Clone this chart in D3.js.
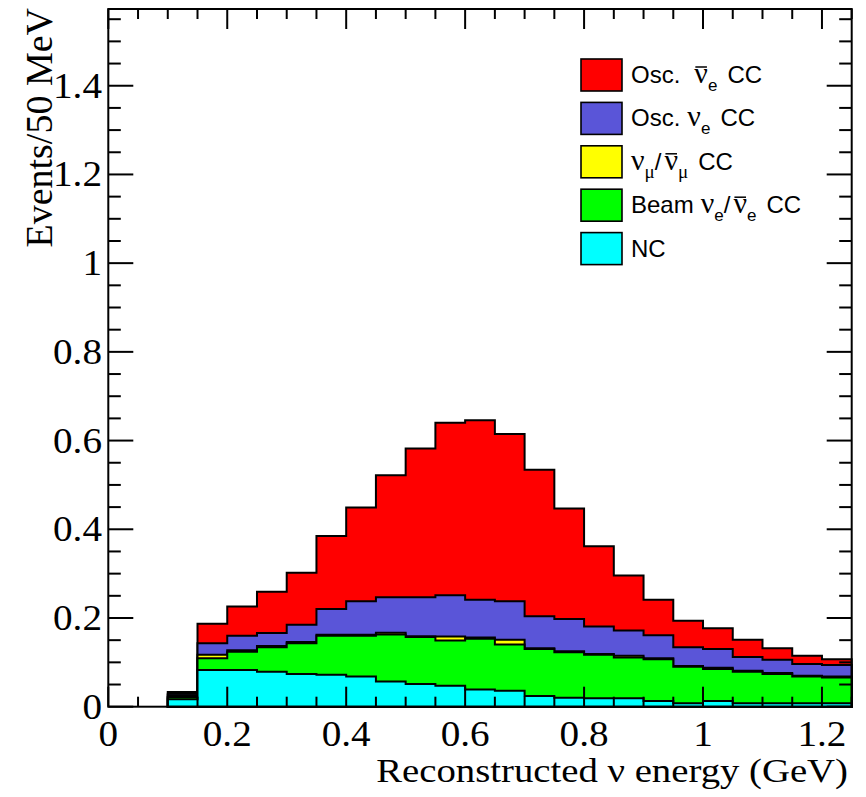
<!DOCTYPE html>
<html>
<head>
<meta charset="utf-8">
<script src="https://cdn.jsdelivr.net/npm/d3@7"></script>
<style>
  html, body { margin: 0; padding: 0; background: #fff; }
  svg { display: block; }
</style>
</head>
<body>
<svg id="chart" width="866" height="797"></svg>
<script>
// --- data ---
const binLow = [0.10, 0.15, 0.20, 0.25, 0.30, 0.35, 0.40, 0.45, 0.50, 0.55, 0.60, 0.65,
                0.70, 0.75, 0.80, 0.85, 0.90, 0.95, 1.00, 1.05, 1.10, 1.15, 1.20];
const binWidth = 0.05;

const nc        = [0.017, 0.083, 0.083, 0.079, 0.074, 0.072, 0.068, 0.057, 0.051, 0.047, 0.039, 0.036,
                   0.024, 0.020, 0.019, 0.019, 0.013, 0.008, 0.013, 0.008, 0.008, 0.008, 0.008];
const beamNue   = [0.005, 0.026, 0.041, 0.055, 0.069, 0.088, 0.092, 0.106, 0.106, 0.102, 0.114, 0.104,
                   0.106, 0.103, 0.098, 0.092, 0.094, 0.082, 0.072, 0.071, 0.066, 0.060, 0.058];
const numuCC    = [0.004, 0.008, 0.003, 0.003, 0.003, 0.002, 0.002, 0.004, 0.002, 0.009, 0.003, 0.011,
                   0.002, 0.002, 0.002, 0.004, 0.002, 0.002, 0.003, 0.002, 0.002, 0.002, 0.002];
const oscNue    = [0.003, 0.026, 0.033, 0.029, 0.039, 0.058, 0.076, 0.080, 0.088, 0.093, 0.085, 0.087,
                   0.072, 0.073, 0.062, 0.057, 0.052, 0.042, 0.042, 0.031, 0.030, 0.026, 0.026];
const oscNuebar = [0.004, 0.044, 0.066, 0.093, 0.117, 0.165, 0.211, 0.275, 0.335, 0.389, 0.405, 0.377,
                   0.330, 0.249, 0.181, 0.124, 0.080, 0.060, 0.047, 0.039, 0.026, 0.019, 0.013];

const xMajor = [0, 0.2, 0.4, 0.6, 0.8, 1, 1.2];
const yMajor = [0, 0.2, 0.4, 0.6, 0.8, 1, 1.2, 1.4];

const layers = [
  { key: 'nc',        values: nc,        color: '#00ffff' },
  { key: 'beamNue',   values: beamNue,   color: '#00ff00' },
  { key: 'numuCC',    values: numuCC,    color: '#ffff00' },
  { key: 'oscNue',    values: oscNue,    color: '#5a55d8' },
  { key: 'oscNuebar', values: oscNuebar, color: '#ff0000' }
];

// legend: text pieces, n = normal, g = greek, gb = greek with bar, s/sg = subscript
const legendItems = [
  { key: 'oscNuebar', parts: [['Osc.', 'n'], ['ν', 'gb'], ['e', 's'], ['CC', 'n']] },
  { key: 'oscNue',    parts: [['Osc.', 'n'], ['ν', 'g'], ['e', 's'], ['CC', 'n']] },
  { key: 'numuCC',    parts: [['ν', 'g'], ['μ', 'sg'], ['/', 'n'], ['ν', 'gb'], ['μ', 'sg'], ['CC', 'n']] },
  { key: 'beamNue',   parts: [['Beam', 'n'], ['ν', 'g'], ['e', 's'], ['/', 'n'], ['ν', 'gb'], ['e', 's'], ['CC', 'n']] },
  { key: 'nc',        parts: [['NC', 'n']] }
];

// --- layout ---
const frame = { left: 108.3, right: 851.7, top: 9, bottom: 706.7 };
const serif = "'Liberation Serif', 'Times New Roman', serif";
const sans = "'Liberation Sans', Arial, Helvetica, sans-serif";
const stretch = 1.12;

const svg = d3.select('#chart');

const x = d3.scaleLinear().domain([0, 1.25]).range([frame.left, frame.right]);
const y = d3.scaleLinear().domain([0, 1.573]).range([frame.bottom, frame.top]);

// stacked histogram, drawn top layer first
const rows = binLow.map((b, i) => {
  const r = { x: b };
  layers.forEach(l => { r[l.key] = l.values[i]; });
  return r;
});
const stacked = d3.stack().keys(layers.map(l => l.key))(rows);

const area = d3.area()
  .curve(d3.curveStepAfter)
  .x(d => x(d.x))
  .y0(y(0))
  .y1(d => y(d.top));

const histG = svg.append('g');
stacked.slice().reverse().forEach(series => {
  const layer = layers.find(l => l.key === series.key);
  const pts = series.map((s, i) => ({ x: binLow[i], top: s[1] }));
  const last = pts[pts.length - 1];
  pts.push({ x: last.x + binWidth, top: last.top });
  histG.append('path')
    .datum(pts)
    .attr('d', area)
    .attr('fill', layer.color)
    .attr('stroke', '#000')
    .attr('stroke-width', 2)
    .attr('stroke-linejoin', 'miter');
});

// frame and ticks (ROOT style, inward on all four sides)
const axG = svg.append('g').attr('stroke', '#000').attr('stroke-width', 2);
axG.append('rect')
  .attr('x', frame.left).attr('y', frame.top)
  .attr('width', frame.right - frame.left).attr('height', frame.bottom - frame.top)
  .attr('fill', 'none');

const xMinor = d3.range(0, 1.2501, 0.05);
xMinor.forEach(v => {
  const isMajor = xMajor.some(m => Math.abs(m - v) < 1e-6);
  const len = isMajor ? 20 : 10;
  axG.append('line').attr('x1', x(v)).attr('x2', x(v)).attr('y1', frame.bottom).attr('y2', frame.bottom - len);
  axG.append('line').attr('x1', x(v)).attr('x2', x(v)).attr('y1', frame.top).attr('y2', frame.top + len);
});

const yMinor = d3.range(0, 1.5501, 0.05);
yMinor.forEach(v => {
  const isMajor = yMajor.some(m => Math.abs(m - v) < 1e-6);
  const len = isMajor ? 25 : 12.5;
  axG.append('line').attr('x1', frame.left).attr('x2', frame.left + len).attr('y1', y(v)).attr('y2', y(v));
  axG.append('line').attr('x1', frame.right).attr('x2', frame.right - len).attr('y1', y(v)).attr('y2', y(v));
});

const fmt = v => String(+v.toFixed(1));

// tick labels
const labG = svg.append('g').attr('font-family', serif).attr('font-size', 35).attr('fill', '#000');
xMajor.forEach(v => {
  labG.append('text')
    .attr('transform', `translate(${x(v)},746) scale(${stretch},1)`)
    .attr('text-anchor', 'middle')
    .text(fmt(v));
});
yMajor.forEach(v => {
  labG.append('text')
    .attr('transform', `translate(102,${y(v) + 12}) scale(${stretch},1)`)
    .attr('text-anchor', 'end')
    .text(fmt(v));
});

// axis titles
svg.append('text')
  .attr('transform', `translate(848,782) scale(1.14,1)`)
  .attr('text-anchor', 'end')
  .attr('font-family', serif).attr('font-size', 34)
  .text('Reconstructed ν energy (GeV)');

svg.append('text')
  .attr('transform', 'translate(52,8) rotate(-90)')
  .attr('text-anchor', 'end')
  .attr('font-family', serif).attr('font-size', 38)
  .text('Events/50 MeV');

// legend
const legG = svg.append('g');
const kinds = {
  n:  { family: sans,  size: 24, dy: 0 },
  g:  { family: serif, size: 30, dy: 0 },
  gb: { family: serif, size: 30, dy: 0 },
  s:  { family: sans,  size: 17, dy: 8 },
  sg: { family: serif, size: 19, dy: 8 }
};
legendItems.forEach((item, i) => {
  const layer = layers.find(l => l.key === item.key);
  const cy = 75 + i * 43.4;
  legG.append('rect')
    .attr('x', 581).attr('y', cy - 16).attr('width', 41).attr('height', 32)
    .attr('fill', layer.color).attr('stroke', '#000').attr('stroke-width', 1.6);

  let cx = 631;
  let prev = null;
  item.parts.forEach(([t, k]) => {
    if (prev) {
      if (k === 'n') cx += (t === '/' ? 0 : 10);
      else if (k === 'g') cx += 7;
      else if (k === 'gb') cx += (prev[0] === '/' ? 3 : 14);
    }
    const f = kinds[k];
    const txt = legG.append('text')
      .attr('x', cx).attr('y', cy + 8 + f.dy)
      .attr('font-family', f.family).attr('font-size', f.size)
      .attr('fill', '#000')
      .text(t);
    const w = txt.node().getComputedTextLength();
    if (k === 'gb') {
      legG.append('line')
        .attr('x1', cx + 1).attr('x2', cx + w - 1)
        .attr('y1', cy - 8).attr('y2', cy - 8)
        .attr('stroke', '#000').attr('stroke-width', 1.5);
    }
    cx += w;
    prev = [t, k];
  });
});
</script>
</body>
</html>
